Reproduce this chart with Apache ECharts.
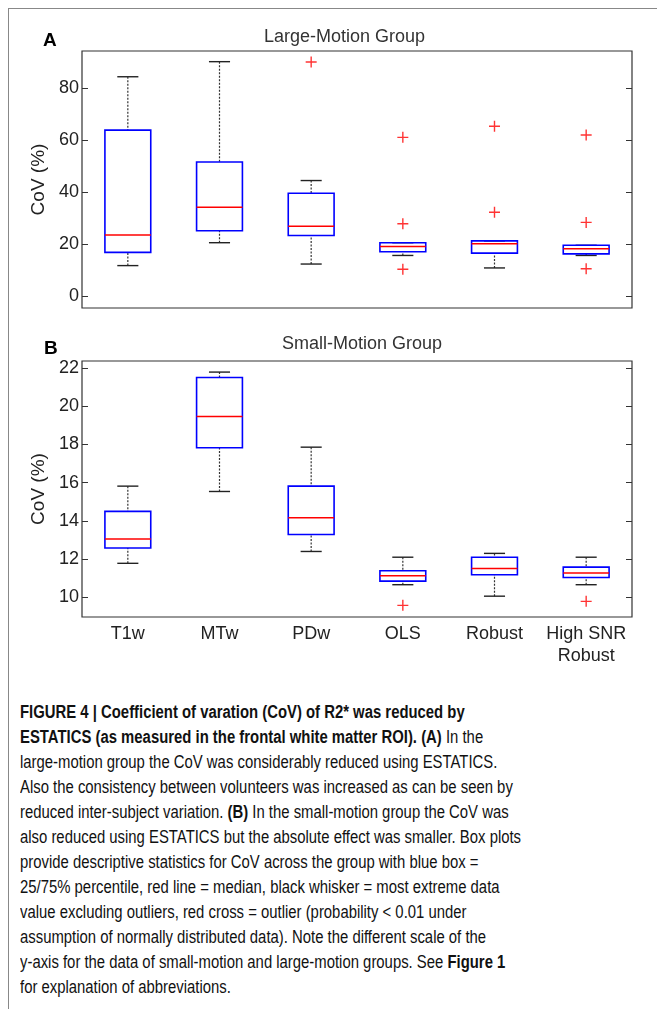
<!DOCTYPE html>
<html>
<head>
<meta charset="utf-8">
<script src="https://cdn.jsdelivr.net/npm/echarts@6/dist/echarts.min.js"></script>
<style>
  html, body { margin: 0; padding: 0; background: #fff; }
  #frame { position: absolute; left: 8px; top: 8px; width: 700px; height: 1100px;
           border-left: 1px solid #888; border-top: 1px solid #888; }
  #chart { position: absolute; left: 0; top: 0; width: 657px; height: 680px; }
  #caption { position: absolute; left: 20px; top: 700px; white-space: pre;
             font-family: 'Liberation Sans', Arial, sans-serif;
             font-size: 17.5px; line-height: 25px; color: #111;
             transform: scaleX(0.85); transform-origin: 0 0; }
  #caption b { font-weight: bold; }
</style>
</head>
<body>
<div id="frame"></div>
<div id="chart"></div>
<div id="caption"><b>FIGURE 4 | Coefficient of varation (CoV) of R2* was reduced by</b>
<b>ESTATICS (as measured in the frontal white matter ROI). (A)</b> In the
large-motion group the CoV was considerably reduced using ESTATICS.
Also the consistency between volunteers was increased as can be seen by
reduced inter-subject variation. <b>(B)</b> In the small-motion group the CoV was
also reduced using ESTATICS but the absolute effect was smaller. Box plots
provide descriptive statistics for CoV across the group with blue box =
25/75% percentile, red line = median, black whisker = most extreme data
value excluding outliers, red cross = outlier (probability &lt; 0.01 under
assumption of normally distributed data). Note the different scale of the
y-axis for the data of small-motion and large-motion groups. See <b>Figure 1</b>
for explanation of abbreviations.</div>
<script>
const categories = ['T1w', 'MTw', 'PDw', 'OLS', 'Robust', 'High SNR\nRobust']

// [low whisker, q1, median, q3, high whisker]
const largeBoxes = [
  [11.7, 16.8, 23.5, 63.8, 84.3],
  [20.5, 25.1, 34.1, 51.5, 90.1],
  [12.3, 23.3, 26.8, 39.5, 44.4],
  [15.6, 17.0, 19.0, 20.5, 20.5],
  [10.8, 16.5, 20.1, 21.2, 21.2],
  [15.6, 16.2, 18.2, 19.5, 19.5],
]
// [category index, value]
const largeOutliers = [
  [2, 90.0], [3, 61.0], [3, 27.8], [3, 10.3],
  [4, 65.3], [4, 32.2], [5, 61.9], [5, 28.3], [5, 10.5],
]

const smallBoxes = [
  [11.78, 12.58, 13.05, 14.50, 15.82],
  [15.54, 17.83, 19.47, 21.51, 21.79],
  [12.40, 13.29, 14.17, 15.82, 17.86],
  [10.66, 10.85, 11.13, 11.39, 12.10],
  [10.06, 11.18, 11.51, 12.10, 12.30],
  [10.66, 11.04, 11.27, 11.58, 12.10],
]
const smallOutliers = [[3, 9.58], [5, 9.79]]

const largeTicks = [0, 20, 40, 60, 80]
const smallTicks = [10, 12, 14, 16, 18, 20, 22]

const FONT = 'Liberation Sans, Arial, sans-serif'

function renderBox(params, api) {
  const x = api.value(0)
  const lo = api.coord([x, api.value(1)])
  const q1 = api.coord([x, api.value(2)])
  const md = api.coord([x, api.value(3)])
  const q3 = api.coord([x, api.value(4)])
  const hi = api.coord([x, api.value(5)])
  const band = api.size([1, 0])[0]
  const half = band * 0.25
  const cap = band * 0.115
  const cx = lo[0]
  const dash = { stroke: '#333', lineWidth: 1.2, lineDash: [2, 1.5] }
  const solid = { stroke: '#222', lineWidth: 1.4 }
  return {
    type: 'group',
    children: [
      { type: 'line', shape: { x1: cx, y1: hi[1], x2: cx, y2: q3[1] }, style: dash },
      { type: 'line', shape: { x1: cx, y1: lo[1], x2: cx, y2: q1[1] }, style: dash },
      { type: 'line', shape: { x1: cx - cap, y1: hi[1], x2: cx + cap, y2: hi[1] }, style: solid },
      { type: 'line', shape: { x1: cx - cap, y1: lo[1], x2: cx + cap, y2: lo[1] }, style: solid },
      {
        type: 'rect',
        shape: { x: cx - half, y: q3[1], width: half * 2, height: q1[1] - q3[1] },
        style: { fill: 'none', stroke: '#0000ff', lineWidth: 1.6 },
      },
      {
        type: 'line',
        shape: { x1: cx - half, y1: md[1], x2: cx + half, y2: md[1] },
        style: { stroke: '#ff0000', lineWidth: 1.5 },
      },
    ],
  }
}

function yAxes(gridIndex, min, max, ticks) {
  const tick = { show: true, inside: true, length: 6, customValues: ticks, lineStyle: { color: '#333' } }
  return [
    {
      gridIndex, type: 'value', min, max,
      axisLine: { show: false },
      axisTick: tick,
      splitLine: { show: false },
      axisLabel: { customValues: ticks, fontSize: 18, color: '#222', fontFamily: FONT, margin: 3 },
      name: 'CoV (%)', nameLocation: 'middle', nameGap: 28,
      nameTextStyle: { fontSize: 19, color: '#222', fontFamily: FONT },
    },
    {
      gridIndex, type: 'value', min, max, position: 'right',
      axisLine: { show: false },
      axisTick: tick,
      splitLine: { show: false },
      axisLabel: { show: false },
    },
  ]
}

function xAxis(gridIndex, showLabels) {
  return {
    gridIndex, type: 'category', data: categories, boundaryGap: true,
    axisLine: { show: false },
    axisTick: { show: false },
    splitLine: { show: false },
    axisLabel: {
      show: showLabels, interval: 0, fontSize: 18, lineHeight: 22,
      color: '#222', fontFamily: FONT, margin: 6,
    },
  }
}

const plusSymbol = 'path://M0,5L10,5M5,0L5,10'

function outlierSeries(data, xIndex, yIndex) {
  return {
    type: 'scatter', xAxisIndex: xIndex, yAxisIndex: yIndex,
    data, symbol: plusSymbol, symbolSize: 11, silent: true,
    itemStyle: { color: 'rgba(0,0,0,0)', borderColor: '#ff0000', borderWidth: 1.4 },
    z: 5,
  }
}

const chart = echarts.init(document.getElementById('chart'), null, { renderer: 'canvas' })

chart.setOption({
  backgroundColor: 'transparent',
  animation: false,
  title: [
    { text: 'A', left: 38, top: 26, textStyle: { fontSize: 19, fontWeight: 'bold', color: '#000', fontFamily: FONT } },
    { text: 'Large-Motion Group', left: 259, top: 23, textStyle: { fontSize: 18, fontWeight: 'normal', color: '#333', fontFamily: FONT } },
    { text: 'B', left: 39, top: 334, textStyle: { fontSize: 19, fontWeight: 'bold', color: '#000', fontFamily: FONT } },
    { text: 'Small-Motion Group', left: 277, top: 330, textStyle: { fontSize: 18, fontWeight: 'normal', color: '#333', fontFamily: FONT } },
  ],
  grid: [
    { left: 82, top: 51, width: 550, height: 257, show: true, borderColor: '#333', borderWidth: 1.2 },
    { left: 82, top: 361, width: 550, height: 256, show: true, borderColor: '#333', borderWidth: 1.2 },
  ],
  xAxis: [xAxis(0, false), xAxis(1, true)],
  yAxis: [
    ...yAxes(0, -4.6, 94.2, largeTicks),
    ...yAxes(1, 8.97, 22.37, smallTicks),
  ],
  series: [
    {
      type: 'custom', xAxisIndex: 0, yAxisIndex: 0, silent: true,
      renderItem: renderBox,
      encode: { x: 0, y: [1, 2, 3, 4, 5] },
      data: largeBoxes.map((b, i) => [i, ...b]),
    },
    outlierSeries(largeOutliers, 0, 0),
    {
      type: 'custom', xAxisIndex: 1, yAxisIndex: 2, silent: true,
      renderItem: renderBox,
      encode: { x: 0, y: [1, 2, 3, 4, 5] },
      data: smallBoxes.map((b, i) => [i, ...b]),
    },
    outlierSeries(smallOutliers, 1, 2),
  ],
})
</script>
</body>
</html>
